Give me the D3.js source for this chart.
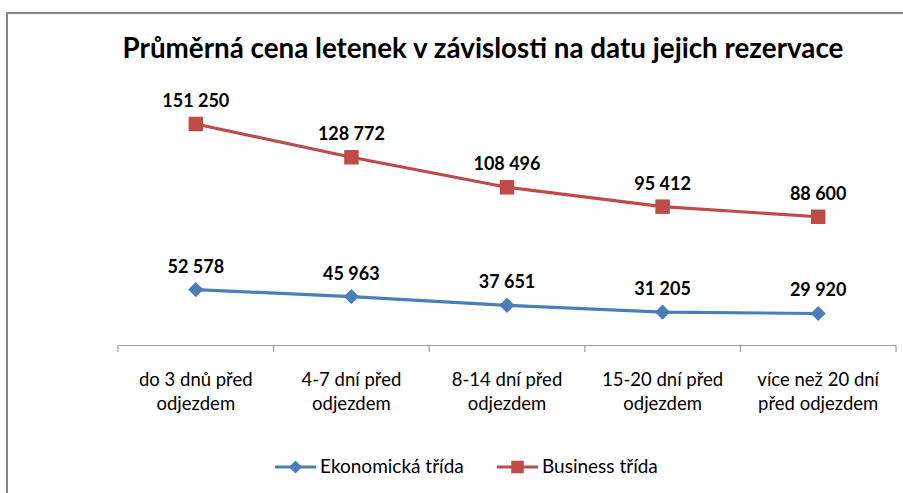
<!DOCTYPE html>
<html>
<head>
<meta charset="utf-8">
<script src="https://cdn.jsdelivr.net/npm/d3@7"></script>
<style>
  body { margin: 0; background: #fff; }
  text { font-family: Lato, "Noto Sans", sans-serif; fill: #000; }
</style>
</head>
<body>
<script>
// kategorie (dvouřádkové popisky osy x)
let categories = ['do 3 dnů před odjezdem', '4-7 dní před odjezdem', '8-14 dní před odjezdem', '15-20 dní před odjezdem', 'více než 20 dní před odjezdem']
let categoryLines = [
  ['do 3 dnů před', 'odjezdem'],
  ['4-7 dní před', 'odjezdem'],
  ['8-14 dní před', 'odjezdem'],
  ['15-20 dní před', 'odjezdem'],
  ['více než 20 dní', 'před odjezdem']
]
// řady
let seriesNames = ['Ekonomická třída', 'Business třída']
let economy = [52578, 45963, 37651, 31205, 29920]
let business = [151250, 128772, 108496, 95412, 88600]
// rozsahy os (business na hlavní ose, ekonomická na vedlejší)
let businessMax = 160000
let economyMax = 225000

let W = 903
let H = 493
let svg = d3.select('body').append('svg')
  .attr('width', W)
  .attr('height', H)

// rámeček grafu
svg.append('rect')
  .attr('x', 7).attr('y', 13)
  .attr('width', W + 20).attr('height', H + 20)
  .attr('fill', 'none')
  .attr('stroke', '#868686')
  .attr('stroke-width', 2)

// nadpis
let title = svg.append('text')
  .attr('x', 483).attr('y', 58)
  .attr('text-anchor', 'middle')
  .style('font-weight', 'bold')
  .style('font-size', '22px')
  .text('Průměrná cena letenek v závislosti na datu jejich rezervace')
// přizpůsobení šířky nadpisu
let tw = title.node().getComputedTextLength()
title.style('font-size', (22 * 721 / tw) + 'px')

let x = d3.scaleBand().domain(categories).range([118, 896])
let yBus = d3.scaleLinear().domain([0, businessMax]).range([348, 111])
let yEco = d3.scaleLinear().domain([0, economyMax]).range([345, 108])

// osa x
let axis = svg.append('g')
  .attr('transform', 'translate(0,345)')
  .call(d3.axisBottom(x).tickSize(0).tickFormat(''))
axis.select('.domain').attr('stroke', '#a0a0a0').attr('stroke-width', 1.2)
axis.selectAll('.boundary')
  .data(d3.range(categories.length + 1))
  .enter().append('line')
  .attr('class', 'boundary')
  .attr('x1', (d) => 118 + d * x.bandwidth())
  .attr('x2', (d) => 118 + d * x.bandwidth())
  .attr('y1', 0).attr('y2', 7)
  .attr('stroke', '#a0a0a0')
  .attr('stroke-width', 1.2)

// popisky kategorií
let labels = svg.append('g').selectAll('text')
  .data(categories)
  .enter().append('text')
  .attr('text-anchor', 'middle')
  .style('font-size', '18.5px')
labels.each(function (d, i) {
  let t = d3.select(this)
  categoryLines[i].forEach((line, j) => {
    t.append('tspan')
      .attr('x', x(d) + x.bandwidth() / 2)
      .attr('y', 386 + j * 24)
      .text(line)
  })
})

let fmt = (v) => d3.format(',')(v).replace(/,/g, ' ')
let cx = (d, i) => x(categories[i]) + x.bandwidth() / 2

// kosočtverec = čtverec otočený o 45°
let series = [
  { name: seriesNames[0], values: economy, y: yEco, color: '#4a7ebb', marker: d3.symbolSquare, size: 115, rot: 45 },
  { name: seriesNames[1], values: business, y: yBus, color: '#be4b48', marker: d3.symbolSquare, size: 210, rot: 0 }
]

series.forEach((s) => {
  let g = svg.append('g')
  g.append('path')
    .datum(s.values)
    .attr('fill', 'none')
    .attr('stroke', s.color)
    .attr('stroke-width', 3.2)
    .attr('d', d3.line().x(cx).y((d) => s.y(d)))
  g.selectAll('.pt')
    .data(s.values)
    .enter().append('path')
    .attr('class', 'pt')
    .attr('transform', (d, i) => 'translate(' + cx(d, i) + ',' + s.y(d) + ') rotate(' + s.rot + ')')
    .attr('d', d3.symbol().type(s.marker).size(s.size))
    .attr('fill', s.color)
  g.selectAll('.lbl')
    .data(s.values)
    .enter().append('text')
    .attr('class', 'lbl')
    .attr('x', cx)
    .attr('y', (d) => s.y(d) - 17)
    .attr('text-anchor', 'middle')
    .style('font-size', '18px')
    .style('font-weight', 'bold')
    .text(fmt)
})

// legenda
let legend = svg.append('g')
let legendX = [275, 497]
series.forEach((s, i) => {
  let lg = legend.append('g').attr('transform', 'translate(' + legendX[i] + ',467)')
  lg.append('line')
    .attr('x1', 0).attr('x2', 41)
    .attr('stroke', s.color).attr('stroke-width', 3.2)
  lg.append('path')
    .attr('transform', 'translate(20.5,0) rotate(' + s.rot + ')')
    .attr('d', d3.symbol().type(s.marker).size(s.size * 0.75))
    .attr('fill', s.color)
  lg.append('text')
    .attr('x', 45).attr('y', 6)
    .style('font-size', '19px')
    .text(s.name)
})
</script>
</body>
</html>
